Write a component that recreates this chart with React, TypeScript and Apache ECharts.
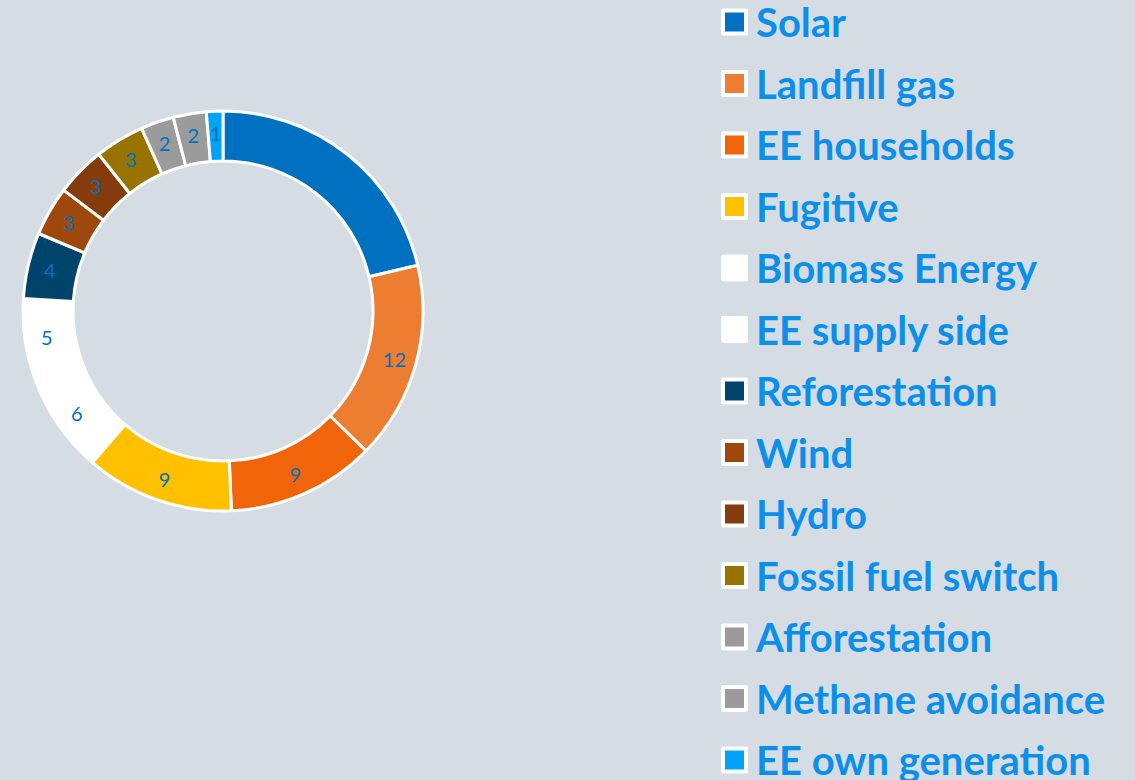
import React, { useEffect, useRef } from "react";
import * as echarts from "echarts";

const categories = [
  "Solar",
  "Landfill gas",
  "EE households",
  "Fugitive",
  "Biomass Energy",
  "EE supply side",
  "Reforestation",
  "Wind",
  "Hydro",
  "Fossil fuel switch",
  "Afforestation",
  "Methane avoidance",
  "EE own generation",
];
const values = [16, 12, 9, 9, 6, 5, 4, 3, 3, 3, 2, 2, 1];
const colors = [
  "#0070C0",
  "#ED7D31",
  "#F0640A",
  "#FFC000",
  "#FFFFFF",
  "#FFFFFF",
  "#01446B",
  "#9E480E",
  "#843C0C",
  "#997300",
  "#9B9B9B",
  "#9B9B9B",
  "#00A3F5",
];

export default function App() {
  const ref = useRef<HTMLDivElement>(null);
  useEffect(() => {
    if (!ref.current) return;
    const chart = echarts.init(ref.current, undefined, { renderer: "svg" });
    chart.setOption({
      animation: false,
      backgroundColor: "#D5DCE4",
      legend: {
        orient: "vertical",
        left: 721,
        top: 2,
        height: 1200,
        padding: 0,
        itemWidth: 23,
        itemHeight: 23,
        itemGap: 21.5,
        icon: "rect",
        selectedMode: false,
        itemStyle: { borderColor: "#FFFFFF", borderWidth: 4 },
        textStyle: {
          fontFamily: "Lato",
          fontWeight: "bold",
          fontSize: 40,
          lineHeight: 40,
          color: "#0B8FE8",
          padding: [0, 0, 0, 5],
        },
        data: categories,
      },
      series: [
        {
          type: "pie",
          radius: [150, 200],
          center: [223, 311],
          startAngle: 90,
          clockwise: true,
          avoidLabelOverlap: false,
          label: {
            show: true,
            position: "inside",
            formatter: "{c}",
            color: "#0070C0",
            fontFamily: "Lato",
            fontSize: 20,
          },
          labelLine: { show: false },
          itemStyle: { borderColor: "#FFFFFF", borderWidth: 3 },
          emphasis: { disabled: true },
          data: categories.map((name, i) => ({
            name,
            value: values[i],
            itemStyle: { color: colors[i] },
          })),
        },
      ],
    });
    return () => chart.dispose();
  }, []);
  return (
    <div
      ref={ref}
      style={{ position: "fixed", left: 0, top: 0, width: 1135, height: 780 }}
    />
  );
}
